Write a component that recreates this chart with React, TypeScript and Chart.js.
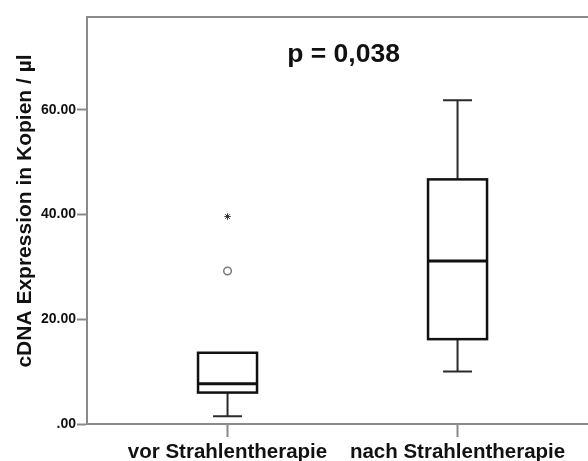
import { useEffect, useRef } from "react";
import { Chart, registerables } from "chart.js";

Chart.register(...registerables);

// Groups and their box-plot statistics (copies per µl)
const categories = ["vor Strahlentherapie", "nach Strahlentherapie"];
const whiskerLow = [1.5, 10.0];
const quartile1 = [6.0, 16.2];
const medians = [7.7, 31.1];
const quartile3 = [13.6, 46.7];
const whiskerHigh = [13.6, 61.8];
// Outliers per group: circles (mild) and stars (extreme)
const circleOutliers = [[29.2], []];
const starOutliers = [[39.6], []];

const yTicks = [0, 20, 40, 60];
const yTitle = "cDNA Expression in Kopien / µl";
const pValueText = "p = 0,038";

const FONT = "'Liberation Sans', Arial, Helvetica, sans-serif";
const AXIS_COLOR = "#8a8a8a";
const BOX_WIDTH = 59;
const CAP_WIDTH = 29;

const boxPlotPlugin = {
  id: "boxPlot",
  beforeDatasetsDraw(chart: any) {
    const { ctx, chartArea } = chart;
    const x = chart.scales.x;
    const y = chart.scales.y;
    ctx.save();

    // upper frame line
    ctx.strokeStyle = AXIS_COLOR;
    ctx.lineWidth = 2;
    ctx.beginPath();
    ctx.moveTo(chartArea.left, chartArea.top);
    ctx.lineTo(chart.width, chartArea.top);
    ctx.stroke();

    categories.forEach((_, i) => {
      const cx = x.getPixelForValue(i + 1);
      const yLo = y.getPixelForValue(whiskerLow[i]);
      const yQ1 = y.getPixelForValue(quartile1[i]);
      const yMed = y.getPixelForValue(medians[i]);
      const yQ3 = y.getPixelForValue(quartile3[i]);
      const yHi = y.getPixelForValue(whiskerHigh[i]);

      ctx.strokeStyle = "#2b2b2b";
      ctx.lineWidth = 2;
      ctx.beginPath();
      if (whiskerHigh[i] > quartile3[i]) {
        ctx.moveTo(cx, yQ3);
        ctx.lineTo(cx, yHi);
        ctx.moveTo(cx - CAP_WIDTH / 2, yHi);
        ctx.lineTo(cx + CAP_WIDTH / 2, yHi);
      }
      if (whiskerLow[i] < quartile1[i]) {
        ctx.moveTo(cx, yQ1);
        ctx.lineTo(cx, yLo);
        ctx.moveTo(cx - CAP_WIDTH / 2, yLo);
        ctx.lineTo(cx + CAP_WIDTH / 2, yLo);
      }
      ctx.stroke();

      ctx.fillStyle = "#ffffff";
      ctx.fillRect(cx - BOX_WIDTH / 2, yQ3, BOX_WIDTH, yQ1 - yQ3);
      ctx.strokeStyle = "#111111";
      ctx.lineWidth = 2.5;
      ctx.strokeRect(cx - BOX_WIDTH / 2, yQ3, BOX_WIDTH, yQ1 - yQ3);

      ctx.lineWidth = 3;
      ctx.beginPath();
      ctx.moveTo(cx - BOX_WIDTH / 2, yMed);
      ctx.lineTo(cx + BOX_WIDTH / 2, yMed);
      ctx.stroke();
    });

    ctx.fillStyle = "#111111";
    ctx.textAlign = "center";
    ctx.textBaseline = "middle";

    // significance label between the groups
    ctx.font = `bold 26.5px ${FONT}`;
    ctx.fillText(pValueText, x.getPixelForValue(1.5) + 1, chartArea.top + 38);

    // vertical axis title
    ctx.save();
    ctx.translate(25, 211);
    ctx.rotate(-Math.PI / 2);
    ctx.font = `bold 21px ${FONT}`;
    ctx.fillText(yTitle, 0, 0);
    ctx.restore();

    ctx.restore();
  },
};

export default function App() {
  const canvasRef = useRef<HTMLCanvasElement | null>(null);

  useEffect(() => {
    const canvas = canvasRef.current;
    if (!canvas) return;

    const circlePoints = circleOutliers.flatMap((vals, i) => vals.map((v) => ({ x: i + 1, y: v })));
    const starPoints = starOutliers.flatMap((vals, i) => vals.map((v) => ({ x: i + 1, y: v })));

    const chart = new Chart(canvas, {
      type: "scatter",
      data: {
        datasets: [
          {
            data: circlePoints,
            pointStyle: "circle",
            pointRadius: 3.8,
            backgroundColor: "#ffffff",
            borderColor: "#7a7a7a",
            borderWidth: 1.5,
          },
          {
            data: starPoints,
            pointStyle: "star",
            pointRadius: 3.2,
            backgroundColor: "#333333",
            borderColor: "#333333",
            borderWidth: 1,
          },
        ],
      },
      options: {
        animation: false,
        responsive: false,
        devicePixelRatio: 1,
        layout: { padding: { top: 17, left: 0, right: 0, bottom: 0 } },
        plugins: {
          legend: { display: false },
          tooltip: { enabled: false },
        },
        scales: {
          x: {
            type: "linear",
            min: 0.389,
            max: 2.565,
            afterBuildTicks: (scale: any) => {
              scale.ticks = categories.map((_, i) => ({ value: i + 1 }));
            },
            afterFit: (scale: any) => {
              scale.height = 37;
            },
            ticks: {
              autoSkip: false,
              maxRotation: 0,
              padding: 3,
              color: "#111111",
              font: { family: FONT, size: 20.5, weight: "bold" },
              callback: (v: any) => categories[Number(v) - 1] ?? "",
            },
            grid: {
              drawOnChartArea: false,
              drawTicks: true,
              tickLength: 13,
              tickWidth: 2,
              tickColor: AXIS_COLOR,
            },
            border: { display: true, color: AXIS_COLOR, width: 2 },
          },
          y: {
            type: "linear",
            min: 0,
            max: 77.7,
            afterBuildTicks: (scale: any) => {
              scale.ticks = yTicks.map((v) => ({ value: v }));
            },
            afterFit: (scale: any) => {
              scale.width = 87;
            },
            ticks: {
              padding: 1,
              color: "#111111",
              font: { family: FONT, size: 14, weight: "bold" },
              callback: (v: any) => (Number(v) === 0 ? ".00" : Number(v).toFixed(2)),
            },
            grid: {
              drawOnChartArea: false,
              drawTicks: true,
              tickLength: 10,
              tickWidth: 2,
              tickColor: AXIS_COLOR,
            },
            border: { display: true, color: AXIS_COLOR, width: 2 },
          },
        },
      },
      plugins: [boxPlotPlugin],
    });

    return () => chart.destroy();
  }, []);

  return (
    <div
      style={{
        position: "absolute",
        left: 0,
        top: 0,
        width: 588,
        height: 461,
        overflow: "hidden",
        background: "#ffffff",
      }}
    >
      <canvas ref={canvasRef} width={593} height={461} style={{ display: "block" }} />
    </div>
  );
}
